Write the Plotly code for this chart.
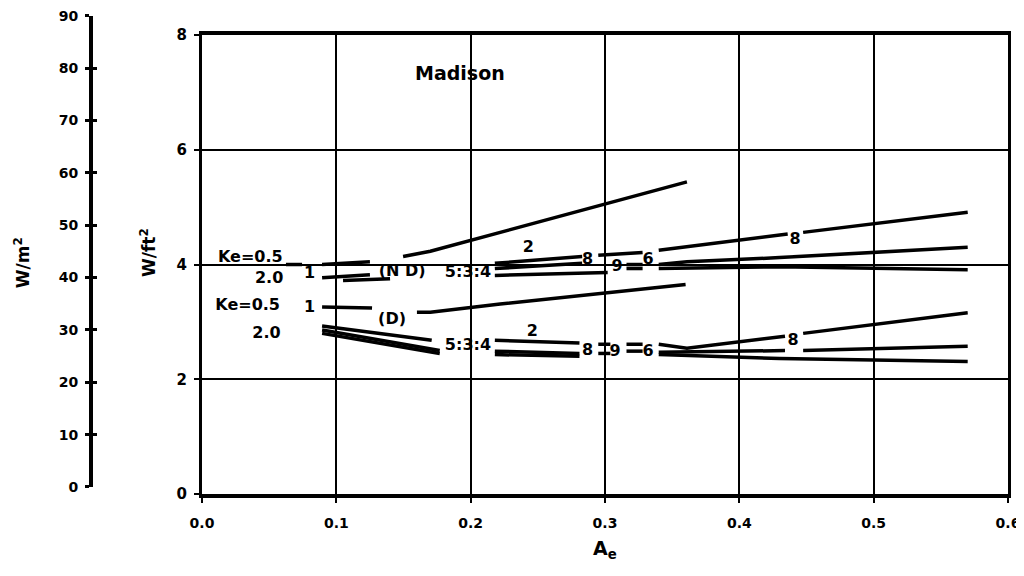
import plotly.graph_objects as go

# ---------------- data ----------------
x_ticks = [0.0, 0.1, 0.2, 0.3, 0.4, 0.5, 0.6]
y_ticks_ft2 = [0, 2, 4, 6, 8]
y_ticks_m2 = [0, 10, 20, 30, 40, 50, 60, 70, 80, 90]

# No-daylighting (ND) family
nd_ke05_x = [0.0625, 0.0745, None, 0.0894, 0.125, None, 0.218, 0.283, None, 0.295, 0.328, None, 0.340, 0.436, None, 0.4475, 0.570]
nd_ke05_y = [4.00, 4.00, None, 4.00, 4.05, None, 4.02, 4.14, None, 4.16, 4.21, None, 4.25, 4.53, None, 4.56, 4.91]

nd_steep_x = [0.1497, 0.170, 0.361]
nd_steep_y = [4.14, 4.23, 5.44]

nd_mid_x = [0.0894, 0.125, None, 0.218, 0.283, None, 0.316, 0.328, None, 0.340, 0.361, 0.430, 0.570]
nd_mid_y = [3.77, 3.82, None, 3.93, 4.02, None, 4.00, 4.00, None, 4.00, 4.05, 4.12, 4.30]

nd_low_x = [0.105, 0.140, None, 0.218, 0.302, None, 0.316, 0.328, None, 0.340, 0.430, 0.570]
nd_low_y = [3.72, 3.75, None, 3.81, 3.86, None, 3.93, 3.93, None, 3.93, 3.96, 3.91]

# Daylighting (D) family
d_ke05_x = [0.0894, 0.1266, None, 0.160, 0.170, 0.222, 0.360]
d_ke05_y = [3.26, 3.24, None, 3.17, 3.17, 3.31, 3.65]

d_top_x = [0.0894, 0.171, None, 0.218, 0.281, None, 0.295, 0.304, None, 0.316, 0.328, None, 0.340, 0.361, 0.434, None, 0.4475, 0.570]
d_top_y = [2.93, 2.68, None, 2.68, 2.63, None, 2.61, 2.61, None, 2.61, 2.61, None, 2.61, 2.54, 2.75, None, 2.80, 3.16]

d_mid_x = [0.0894, 0.177, None, 0.218, 0.281, None, 0.295, 0.304, None, 0.316, 0.328, None, 0.340, 0.434, None, 0.4475, 0.570]
d_mid_y = [2.86, 2.50, None, 2.49, 2.45, None, 2.45, 2.45, None, 2.49, 2.49, None, 2.47, 2.50, None, 2.50, 2.575]

d_low_x = [0.0894, 0.177, None, 0.218, 0.281, None, 0.340, 0.430, 0.570]
d_low_y = [2.80, 2.45, None, 2.43, 2.40, None, 2.43, 2.36, 2.31]

# curve labels
label_text = ["Ke=0.5", "2.0", "1", "(N D)", "5:3:4", "2", "8", "9", "6", "8",
              "Ke=0.5", "1", "(D)", "2.0", "5:3:4", "2", "8", "9", "6", "8"]
label_x = [0.036, 0.050, 0.080, 0.149, 0.198, 0.243, 0.287, 0.309, 0.332, 0.4415,
           0.034, 0.080, 0.1415, 0.048, 0.198, 0.246, 0.287, 0.3075, 0.332, 0.440]
label_y = [4.12, 3.75, 3.84, 3.87, 3.86, 4.28, 4.07, 3.95, 4.07, 4.42,
           3.28, 3.24, 3.03, 2.79, 2.575, 2.82, 2.49, 2.47, 2.47, 2.66]

city = "Madison"
city_x, city_y = 0.192, 7.33

# ---------------- figure ----------------
FONT = "DejaVu Sans"
fig = go.Figure()

series = [
    (nd_ke05_x, nd_ke05_y), (nd_steep_x, nd_steep_y), (nd_mid_x, nd_mid_y), (nd_low_x, nd_low_y),
    (d_ke05_x, d_ke05_y), (d_top_x, d_top_y), (d_mid_x, d_mid_y), (d_low_x, d_low_y),
]
for xs, ys in series:
    fig.add_trace(go.Scatter(x=xs, y=ys, mode="lines", connectgaps=False,
                             line=dict(color="black", width=3.5), hoverinfo="skip",
                             showlegend=False))

fig.add_trace(go.Scatter(x=label_x, y=label_y, text=["<b>%s</b>" % t for t in label_text],
                         mode="text", textposition="middle center",
                         textfont=dict(family=FONT, size=16, color="black"),
                         showlegend=False, hoverinfo="skip"))

# invisible traces in a thin side subplot so that the W/m2 scale is drawn
fig.add_trace(go.Scatter(x=[0], y=[None], xaxis="x2", yaxis="y2", mode="lines",
                         showlegend=False, hoverinfo="skip"))
fig.add_trace(go.Scatter(x=[0], y=[None], xaxis="x2", yaxis="y3", mode="lines",
                         showlegend=False, hoverinfo="skip"))

def bold(vals, fmt):
    return ["<b>" + fmt.format(v) + "</b>" for v in vals]

tickfont = dict(family=FONT, size=14, color="black")

fig.update_layout(
    width=1016, height=568,
    margin=dict(l=12, r=16, t=2, b=82, autoexpand=False),
    paper_bgcolor="white", plot_bgcolor="white",
    font=dict(family=FONT, color="black"),
    xaxis=dict(domain=[0.1842, 1.0], range=[0, 0.6], tickvals=x_ticks,
               ticktext=bold(x_ticks, "{:.1f}"),
               showgrid=True, gridcolor="black", gridwidth=1.5,
               showline=True, mirror=True, linecolor="black", linewidth=3.5,
               ticks="outside", ticklen=5, tickwidth=2, tickcolor="black",
               zeroline=False, tickfont=tickfont, automargin=False,
               ticklabelstandoff=8),
    yaxis=dict(domain=[0.0, 0.9483], range=[0, 8], tickvals=y_ticks_ft2,
               ticktext=bold(y_ticks_ft2, "{}"),
               showgrid=True, gridcolor="black", gridwidth=1.5,
               showline=True, mirror=True, linecolor="black", linewidth=3,
               ticks="outside", ticklen=5, tickwidth=2, tickcolor="black",
               zeroline=False, tickfont=dict(family=FONT, size=15, color="black"),
               automargin=False, ticklabelstandoff=4),
    xaxis2=dict(domain=[0.0739, 0.08], range=[0, 1], visible=False, anchor="y2"),
    yaxis2=dict(domain=[0.0145, 0.988], range=[0, 90], tickvals=y_ticks_m2,
                ticktext=bold(y_ticks_m2, "{}"), anchor="x2", side="left",
                showgrid=False, zeroline=False,
                showline=True, linecolor="black", linewidth=4,
                ticks="outside", ticklen=4, tickwidth=3, tickcolor="black",
                tickfont=tickfont, automargin=False, ticklabelstandoff=4,
                ticklabeloverflow="allow"),
    yaxis3=dict(range=[0, 90], tickvals=y_ticks_m2, overlaying="y2", anchor="x2",
                side="left", showgrid=False, zeroline=False, showline=False,
                ticks="inside", ticklen=4, tickwidth=3, tickcolor="black",
                showticklabels=False, automargin=False),
    annotations=[
        dict(text="<b>" + city + "</b>", x=city_x, y=city_y, xref="x", yref="y", showarrow=False,
             font=dict(family=FONT, size=19, color="black")),
        dict(text="<b>W/m<sup>2</sup></b>", x=0.002, y=0.479, xref="paper", yref="paper",
             xanchor="center", yanchor="middle", textangle=-90, showarrow=False,
             font=dict(family=FONT, size=17, color="black")),
        dict(text="<b>W/ft<sup>2</sup></b>", x=0.1296, y=0.498, xref="paper", yref="paper",
             xanchor="center", yanchor="middle", textangle=-90, showarrow=False,
             font=dict(family=FONT, size=17, color="black")),
        dict(text="<b>A<sub>e</sub></b>", x=0.592, y=-0.1157, xref="paper", yref="paper",
             xanchor="center", yanchor="middle",
             showarrow=False, font=dict(family=FONT, size=19, color="black")),
    ],
)

fig.write_html("out.html")
